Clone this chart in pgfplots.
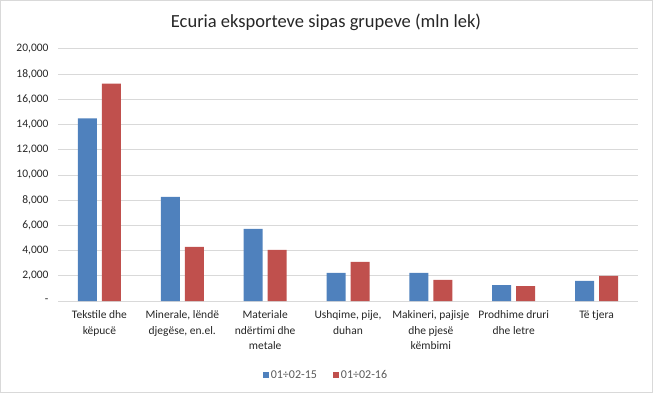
\documentclass[border=0pt]{standalone}
\usepackage{fontspec}
\setmainfont{Carlito}
\usepackage{pgfplots}
\pgfplotsset{compat=1.18}
\definecolor{sblue}{HTML}{4F81BD}
\definecolor{sred}{HTML}{C0504D}
\definecolor{gridc}{HTML}{D9D9D9}
\definecolor{txt}{HTML}{262626}
\definecolor{legtxt}{HTML}{595959}
\begin{document}
\begin{tikzpicture}[x=1bp,y=1bp]
\useasboundingbox (0,0) rectangle (653,393);
\draw[gridc, line width=1bp] (0.5,0.5) rectangle (652.5,392.5);
\node[font=\fontsize{18.5bp}{22bp}\selectfont, text=txt] at (326,371) {Ecuria eksporteve sipas grupeve (mln lek)};
\begin{axis}[
  at={(58bp,92bp)}, anchor=south west,
  scale only axis, width=580bp, height=252bp,
  xmin=-0.5, xmax=6.5, ymin=0, ymax=20000,
  ybar=5bp, bar width=19bp,
  axis line style={draw=none},
  tick style={draw=none},
  scaled y ticks=false,
  ymajorgrids, grid style={gridc, line width=1bp},
  ytick={0,2000,...,20000},
  yticklabels={-,{2,000},{4,000},{6,000},{8,000},{10,000},{12,000},{14,000},{16,000},{18,000},{20,000}},
  yticklabel style={font=\fontsize{11.5bp}{13bp}\selectfont, text=txt, anchor=east, xshift=-6bp},
  xtick={0,...,6},
  xticklabels={{Tekstile dhe\\këpucë},{Minerale, lëndë\\djegëse, en.el.},{Materiale\\ndërtimi dhe\\metale},{Ushqime, pije,\\duhan},{Makineri, pajisje\\dhe pjesë\\këmbimi},{Prodhime druri\\dhe letre},{Të tjera}},
  xticklabel style={font=\fontsize{11.5bp}{15.5bp}\selectfont, text=txt, align=center, anchor=north, yshift=-2bp},
  legend style={at={(axis description cs:0.462,-0.294)}, anchor=center, draw=none, fill=none,
    legend columns=2, font=\fontsize{12bp}{13bp}\selectfont, text=legtxt,
    /tikz/every even column/.append style={column sep=14bp}},
  legend image code/.code={\fill[#1] (0bp,-3bp) rectangle (6bp,3bp);},
]
\addplot[fill=sblue, draw=none] coordinates {(0,14500) (1,8270) (2,5720) (3,2230) (4,2230) (5,1270) (6,1590)};
\addplot[fill=sred, draw=none] coordinates {(0,17250) (1,4290) (2,4050) (3,3100) (4,1670) (5,1190) (6,1990)};
\legend{01÷02-15, 01÷02-16}
\end{axis}
\end{tikzpicture}
\end{document}
